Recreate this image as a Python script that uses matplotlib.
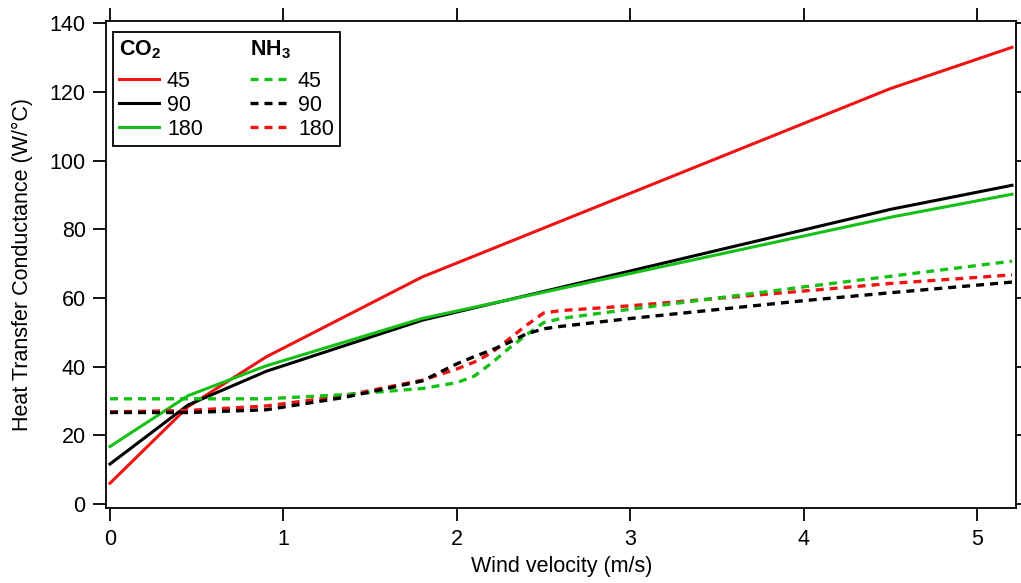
import matplotlib
matplotlib.use("Agg")
import matplotlib.pyplot as plt
from matplotlib.lines import Line2D

plt.rcParams['font.family'] = ['Liberation Sans', 'DejaVu Sans']
plt.rcParams['mathtext.fontset'] = 'custom'
plt.rcParams['mathtext.rm'] = 'Liberation Sans'
plt.rcParams['mathtext.bf'] = 'Liberation Sans:bold'

# Wind velocity (m/s) and heat transfer conductance (W/°C)
co2_velocity = [0, 0.45, 0.9, 1.8, 4.5, 5.2]
co2_45 = [6.0, 28.3, 42.8, 66.1, 121.0, 133.0]
co2_90 = [11.6, 28.8, 38.6, 53.5, 85.8, 92.8]
co2_180 = [16.7, 31.5, 40.2, 54.0, 83.5, 90.2]

nh3_velocity = [0, 0.45, 0.9, 1.35, 1.8, 2.0, 2.1, 2.2, 2.3, 2.4, 2.5, 2.6, 3.0, 4.0, 4.5, 5.2]
nh3_45 = [30.6, 30.6, 30.6, 31.8, 33.6, 35.3, 37.2, 41.0, 45.3, 49.2, 52.8, 54.0, 56.7, 63.2, 66.3, 70.7]
nh3_90 = [26.6, 26.6, 27.4, 31.0, 35.8, 40.8, 42.9, 44.8, 47.0, 49.5, 51.0, 51.7, 54.0, 59.2, 61.5, 64.6]
nh3_180 = [26.8, 27.2, 28.5, 31.5, 36.0, 39.3, 41.3, 44.0, 48.0, 52.0, 55.6, 56.3, 57.7, 62.0, 64.2, 66.7]

series_labels = ["45", "90", "180"]
x_ticks = [0, 1, 2, 3, 4, 5]
y_ticks = [0, 20, 40, 60, 80, 100, 120, 140]

RED = '#ee1414'
GREEN = '#16c016'
BLACK = '#000000'
FS = 15.5
LW = 2.2
LW_DASH = 2.4
DASH = (0, (2.4, 1.8))

fig = plt.figure(figsize=(10.21, 5.83), dpi=100)
ax = fig.add_axes([0.1043, 0.1281, 0.8908, 0.8364])

h_c45, = ax.plot(co2_velocity, co2_45, color=RED, lw=LW)
h_c90, = ax.plot(co2_velocity, co2_90, color=BLACK, lw=LW)
h_c180, = ax.plot(co2_velocity, co2_180, color=GREEN, lw=LW)
h_n180, = ax.plot(nh3_velocity, nh3_180, color=RED, lw=LW_DASH, linestyle=DASH)
h_n45, = ax.plot(nh3_velocity, nh3_45, color=GREEN, lw=LW_DASH, linestyle=DASH)
h_n90, = ax.plot(nh3_velocity, nh3_90, color=BLACK, lw=LW_DASH, linestyle=DASH)

ax.set_xlim(-0.0202, 5.223)
ax.set_ylim(-1.31, 140.76)
ax.set_xticks(x_ticks)
ax.set_yticks(y_ticks)
ax.tick_params(direction='out', length=9.5, width=1.3, top=True, right=True,
               labeltop=False, labelright=False, labelsize=FS, pad=5.5)
for sp in ax.spines.values():
    sp.set_linewidth(1.3)

ax.set_xlabel("Wind velocity (m/s)", fontsize=FS, labelpad=4.5)
ax.set_ylabel("Heat Transfer Conductance (W/°C)", fontsize=FS, labelpad=12)

blank = Line2D([], [], color='none')
handles = [blank, h_c45, h_c90, h_c180, blank, h_n45, h_n90, h_n180]
labels = [r"$\mathbf{CO_2}$"] + series_labels + [r"$\mathbf{NH_3}$"] + series_labels
leg = ax.legend(handles, labels, ncol=2, loc='upper left',
                bbox_to_anchor=(0.0068, 0.9774), borderaxespad=0,
                fontsize=FS, frameon=True, fancybox=False, edgecolor='black',
                framealpha=1, handlelength=1.85, handletextpad=0.37,
                columnspacing=2.2, labelspacing=0.14, borderpad=0.3)
leg.get_frame().set_linewidth(1.3)

# Header rows: collapse the empty handle so the title text starts at the
# column edge, and leave a little extra room below each title
for column in leg._legend_handle_box.get_children():
    header = column.get_children()[0]
    header.sep = 0
    da = header.get_children()[0]
    da.set_width(0)
    da.ydescent += 9
    da.height += 9

fig.savefig("out.png", dpi=100)
